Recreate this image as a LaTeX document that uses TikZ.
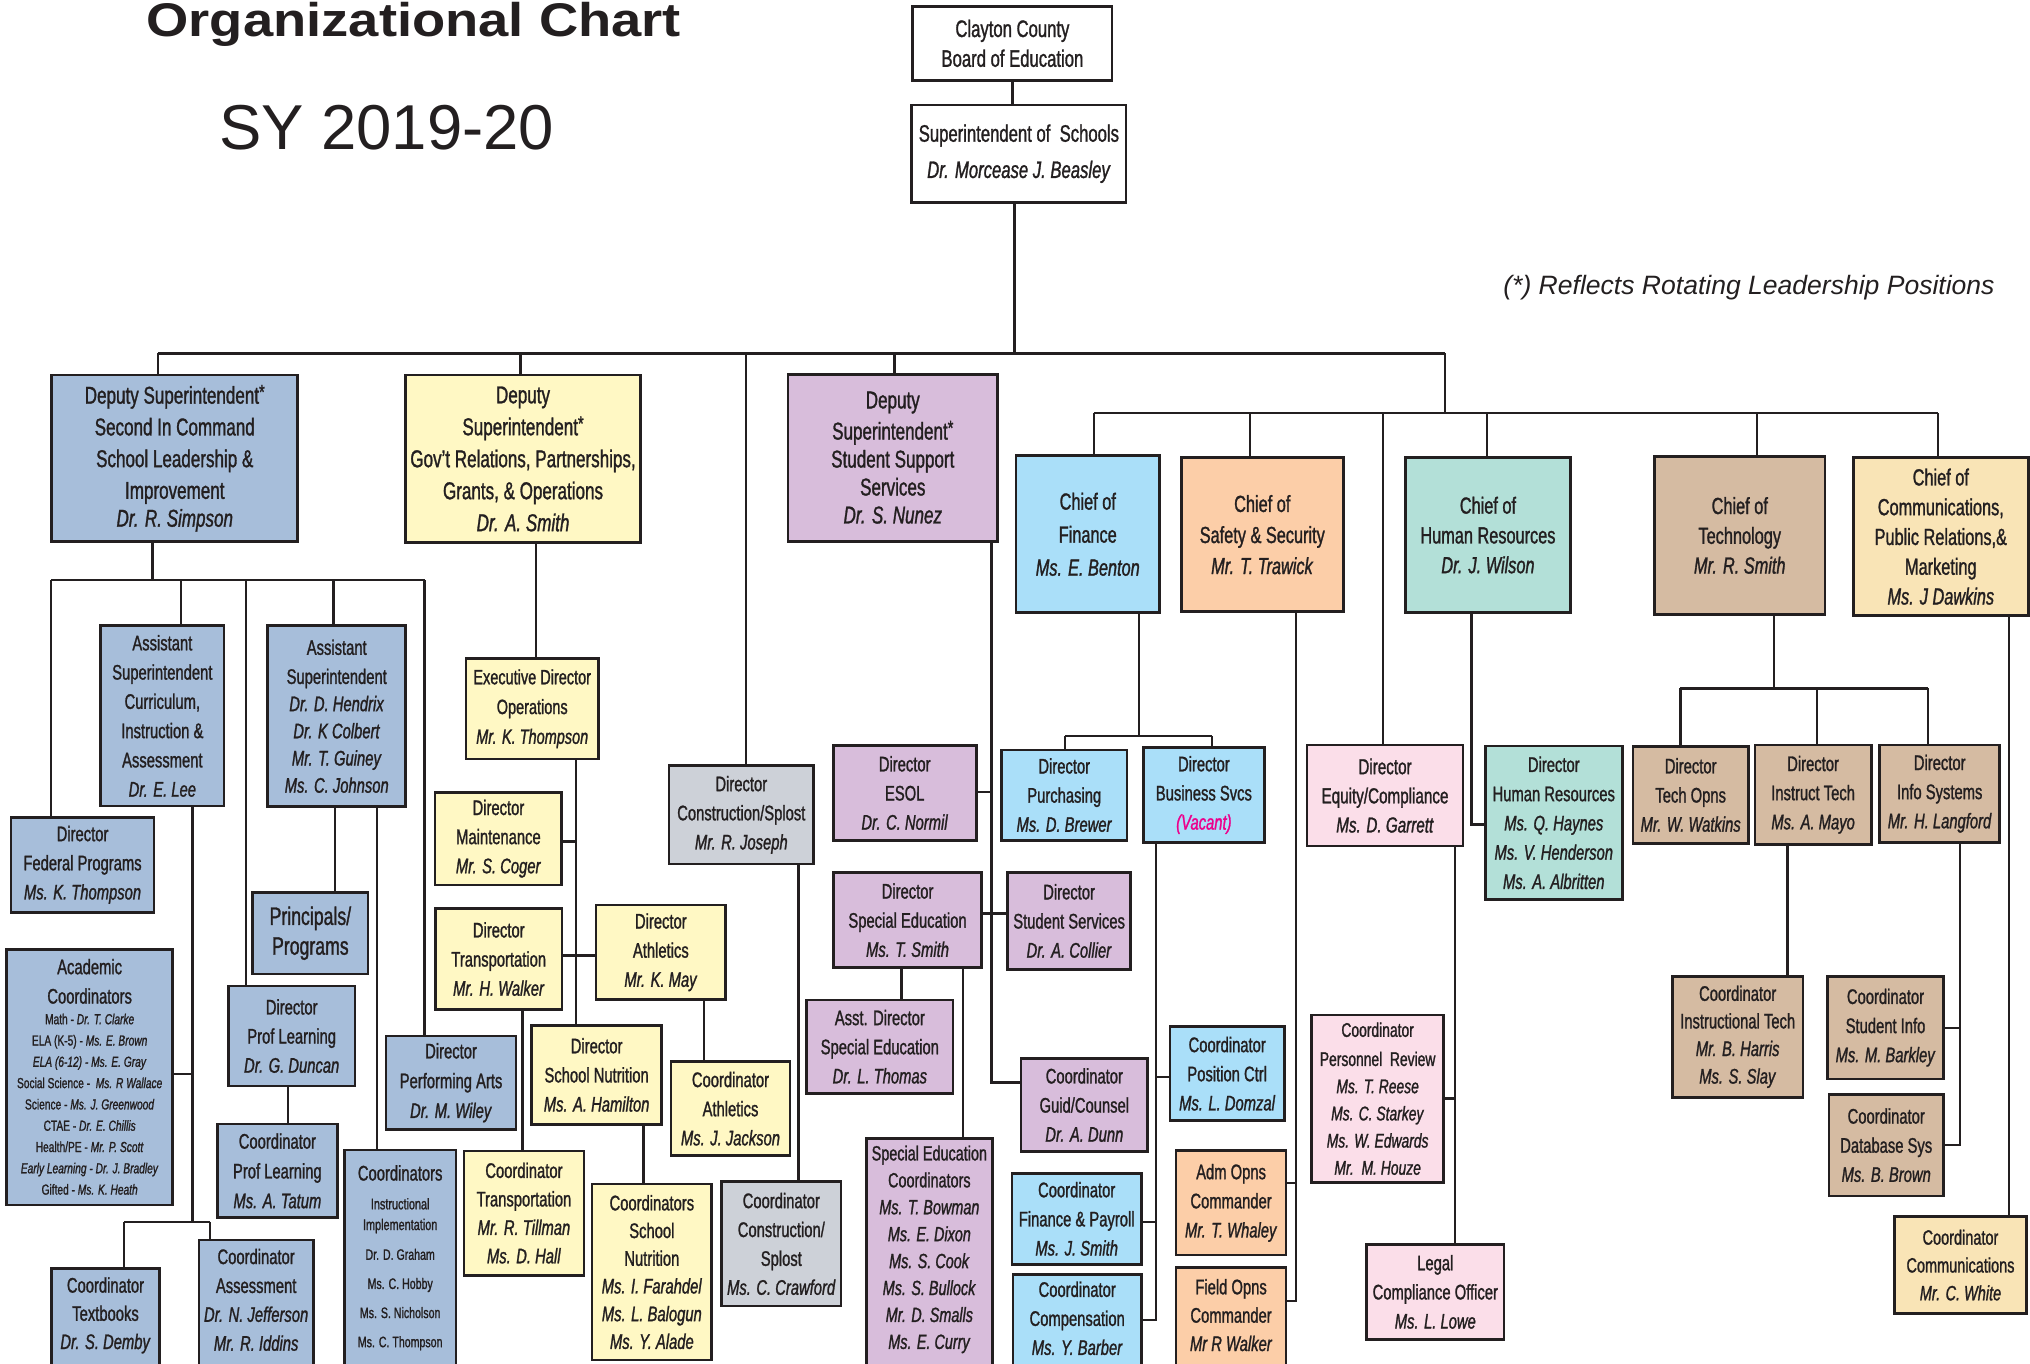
\documentclass[tikz,border=0pt]{standalone}
\usepackage{fontspec}
\setmainfont{Liberation Sans}[FakeStretch=0.7,FakeBold=1.2]
\newfontfamily\titlefont{Liberation Sans}[FakeStretch=1.15]
\newfontfamily\plainfont{Liberation Sans}
\definecolor{ink}{HTML}{231F20}
\definecolor{cBlu}{HTML}{A7BEDA}
\definecolor{cYel}{HTML}{FFF8C4}
\definecolor{cPur}{HTML}{D8BDDB}
\definecolor{cGry}{HTML}{CDD1D8}
\definecolor{cLbl}{HTML}{AADFF9}
\definecolor{cPch}{HTML}{FCCEA8}
\definecolor{cTea}{HTML}{B3E0D8}
\definecolor{cPnk}{HTML}{FBDEE9}
\definecolor{cTan}{HTML}{D5BBA2}
\definecolor{cWht}{HTML}{F9E4B6}
\definecolor{cVac}{HTML}{EC008C}
\newcommand\setfs[2]{\fontsize{#1}{#2}\selectfont}
\newcommand\who[1]{\textit{#1}}
\newcommand\rotmark{\raisebox{3.5pt}{\fontsize{16}{16}\selectfont *}}
\pgfdeclarelayer{bg}
\pgfsetlayers{bg,main}
\tikzset{
  box/.style={draw=ink, line width=2.1pt, align=center, inner sep=0pt, text=ink, font=\setfs{16.3}{22.5}},
  txt/.style={align=center, inner sep=0pt, text=ink},
  wire/.style={draw=ink, line width=1.8pt},
  wh/.style 2 args={minimum width=#1, minimum height=#2},
}
\begin{document}
\begin{tikzpicture}[x=1pt,y=-1pt]
\useasboundingbox (0,0) rectangle (1568,1053);
\begin{pgfonlayer}{bg}
\fill[white] (0,0) rectangle (1568,1053);
\end{pgfonlayer}

% titles
\node[txt, anchor=base west, font=\titlefont\bfseries\setfs{36.5}{40}] (title) at (113,28.3) {Organizational Chart};
\node[txt, anchor=base west, font=\plainfont\setfs{49}{55}] (sy) at (169,115.5) {SY 2019-20};
\node[txt, anchor=base west, font=\plainfont\itshape\setfs{20.5}{24}] (note) at (1161,227.4) {(*) Reflects Rotating Leadership Positions};

% top
\node[box, fill=white, wh={154}{57}, font=\setfs{18.4}{23}] (board) at (782,33.5) {Clayton County\\Board of Education};
\node[box, fill=white, wh={165.5}{75}, font=\setfs{18.4}{28}] (supt) at (787,118.7) {Superintendent of\ \ Schools\\\who{Dr. Morcease J. Beasley}};

% deputies
\node[box, fill=cBlu, wh={190}{128.5}, font=\setfs{18.8}{24.5}] (d1) at (135,354) {Deputy Superintendent\rotmark\\Second In Command\\School Leadership \&\\Improvement\\[-3pt]\who{Dr. R. Simpson}};
\node[box, fill=cYel, wh={182}{129.5}, font=\setfs{18.8}{24.7}] (d2) at (404,354.5) {Deputy\\Superintendent\rotmark\\Gov’t Relations, Partnerships,\\Grants, \& Operations\\\who{Dr. A. Smith}};
\node[box, fill=cPur, wh={162}{129}, font=\setfs{18.8}{21.6}] (d3) at (689.6,353.5) {Deputy\\[2.5pt]Superintendent\rotmark\\Student Support\\Services\\\who{Dr. S. Nunez}};

% chiefs
\node[box, fill=cLbl, wh={111}{121.3}, font=\setfs{18}{25.5}] (cfin) at (840.2,412.7) {Chief of\\Finance\\\who{Ms. E. Benton}};
\node[box, fill=cPch, wh={125}{119}, font=\setfs{18}{24}] (csaf) at (975,413) {Chief of\\Safety \& Security\\\who{Mr. T. Trawick}};
\node[box, fill=cTea, wh={127.3}{119.7}, font=\setfs{18}{23}] (chr) at (1149.3,413.3) {Chief of\\Human Resources\\\who{Dr. J. Wilson}};
\node[box, fill=cTan, wh={131.5}{121.7}, font=\setfs{18}{23}] (ctech) at (1343.8,413.6) {Chief of\\Technology\\\who{Mr. R. Smith}};
\node[box, fill=cWht, wh={135}{122}, font=\setfs{18}{23}] (ccom) at (1499.1,414.5) {Chief of\\Communications,\\Public Relations,\&\\Marketing\\\who{Ms. J Dawkins}};

% deputy 1 subtree
\node[box, fill=cBlu, wh={95.2}{139.3}, font=\setfs{16.3}{22.6}] (asc) at (125.4,553) {Assistant\\Superintendent\\Curriculum,\\Instruction \&\\Assessment\\\who{Dr. E. Lee}};
\node[box, fill=cBlu, wh={106.6}{139.8}, font=\setfs{16.3}{21}] (ash) at (260.1,553.2) {Assistant\\[1.5pt]Superintendent\\\who{Dr. D. Hendrix}\\\who{Dr. K Colbert}\\\who{Mr. T. Guiney}\\\who{Ms. C. Johnson}};
\node[box, fill=cBlu, wh={110.5}{73.4}] (dfp) at (63.75,668) {Director\\Federal Programs\\\who{Ms. K. Thompson}};
\node[box, fill=cBlu, wh={89.1}{63.1}, font=\setfs{19.5}{23}] (pp) at (239.75,720.85) {Principals/\\Programs};
\node[box, fill=cBlu, wh={128.3}{197.5}] (acad) at (69.25,832) {};
\node[txt, font=\setfs{16.3}{22.7}] (acadh) at (69.25,758) {Academic\\Coordinators};
\node[txt, font=\setfs{11.25}{16.45}] (acadl) at (69.25,852.9) {Math - \who{Dr. T. Clarke}\\ELA (K-5) - \who{Ms. E. Brown}\\\who{ELA (6-12) - Ms. E. Gray}\\Social Science -\ \ \who{Ms. R Wallace}\\Science - \who{Ms. J. Greenwood}\\CTAE - \who{Dr. E. Chillis}\\Health/PE - \who{Mr. P. Scott}\\\who{Early Learning - Dr. J. Bradley}\\Gifted - \who{Ms. K. Heath}};
\node[box, fill=cBlu, wh={97.8}{77.3}] (dpl) at (225.3,800.25) {Director\\Prof Learning\\\who{Dr. G. Duncan}};
\node[box, fill=cBlu, wh={92.7}{72.4}, font=\setfs{16.3}{23}] (cpl) at (214.25,904.4) {Coordinator\\Prof Learning\\\who{Ms. A. Tatum}};
\node[box, fill=cBlu, wh={100.4}{72}, font=\setfs{16.3}{23}] (dpa) at (348.4,836.3) {Director\\Performing Arts\\\who{Dr. M. Wiley}};
\node[box, fill=cBlu, wh={86.2}{171.7}] (cii) at (309.1,974.15) {};
\node[txt, font=\setfs{16.3}{20}] (ciih) at (309.1,906) {Coordinators};
\node[txt, font=\setfs{12}{16}] (ciis) at (309.1,939) {Instructional\\Implementation};
\node[txt, font=\setfs{11.7}{22.5}] (ciin) at (309.1,1003.8) {Dr. D. Graham\\Ms. C. Hobby\\Ms. S. Nicholson\\Ms. C. Thompson};
\node[box, fill=cBlu, wh={83.2}{80.3}] (ctb) at (81.5,1019.85) {};
\node[txt, font=\setfs{16.3}{21.8}] (ctbt) at (81.5,1016) {Coordinator\\Textbooks\\\who{Dr. S. Demby}};
\node[box, fill=cBlu, wh={88.3}{102.2}] (cas) at (197.85,1008.9) {};
\node[txt, font=\setfs{16.3}{22.3}] (cast) at (197.85,1004) {Coordinator\\Assessment\\\who{Dr. N. Jefferson}\\\who{Mr. R. Iddins}};

% deputy 2 subtree
\node[box, fill=cYel, wh={102.2}{77.8}, font=\setfs{16}{23}] (edo) at (411.1,547.4) {Executive Director\\Operations\\\who{Mr. K. Thompson}};
\node[box, fill=cYel, wh={97.9}{71.6}] (dmt) at (385,647.8) {Director\\Maintenance\\\who{Mr. S. Coger}};
\node[box, fill=cYel, wh={97.5}{77.5}] (dtr) at (385.25,740.75) {Director\\Transportation\\\who{Mr. H. Walker}};
\node[box, fill=cYel, wh={100.1}{73}] (dath) at (510.45,735.5) {Director\\Athletics\\\who{Mr. K. May}};
\node[box, fill=cYel, wh={100.3}{76.5}] (dsn) at (460.85,830.25) {Director\\School Nutrition\\\who{Ms. A. Hamilton}};
\node[box, fill=cYel, wh={91.9}{72.7}] (cath) at (564.25,856.35) {Coordinator\\Athletics\\\who{Ms. J. Jackson}};
\node[box, fill=cYel, wh={92.6}{96}, font=\setfs{16.3}{22}] (ctr) at (404.7,937) {Coordinator\\Transportation\\\who{Mr. R. Tillman}\\\who{Ms. D. Hall}};
\node[box, fill=cYel, wh={92.4}{135.9}, font=\setfs{16.3}{21.4}] (csn) at (503.5,982.55) {Coordinators\\School\\Nutrition\\\who{Ms. I. Farahdel}\\\who{Ms. L. Balogun}\\\who{Ms. Y. Alade}};

% construction
\node[box, fill=cGry, wh={111.6}{76}] (dcs) at (572.6,629.4) {Director\\Construction/Splost\\\who{Mr. R. Joseph}};
\node[box, fill=cGry, wh={92.2}{96}, font=\setfs{16.3}{22.3}] (ccs) at (603.5,960.8) {Coordinator\\Construction/\\Splost\\\who{Ms. C. Crawford}};

% deputy 3 subtree
\node[box, fill=cPur, wh={110.4}{73}] (desol) at (698.8,612.5) {Director\\ESOL\\\who{Dr. C. Normil}};
\node[box, fill=cPur, wh={114}{73.5}] (dsped) at (701,710.75) {Director\\Special Education\\\who{Ms. T. Smith}};
\node[box, fill=cPur, wh={95.2}{74.7}] (dss) at (825.8,711.35) {Director\\Student Services\\\who{Dr. A. Collier}};
\node[box, fill=cPur, wh={112.8}{72}] (asped) at (679.6,808.5) {Asst. Director\\Special Education\\\who{Dr. L. Thomas}};
\node[box, fill=cPur, wh={97.1}{180.7}] (spco) at (717.85,969.65) {};
\node[txt, font=\setfs{15.9}{20.8}] (spcot) at (717.85,965) {Special Education\\Coordinators\\\who{Ms. T. Bowman}\\\who{Ms. E. Dixon}\\\who{Ms. S. Cook}\\\who{Ms. S. Bullock}\\\who{Mr. D. Smalls}\\\who{Ms. E. Curry}};
\node[box, fill=cPur, wh={97.7}{72.1}] (cgc) at (837.55,853.55) {Coordinator\\Guid/Counsel\\\who{Dr. A. Dunn}};

% finance subtree
\node[box, fill=cLbl, wh={97.1}{69.7}] (dpur) at (822.05,614.15) {Director\\Purchasing\\\who{Ms. D. Brewer}};
\node[box, fill=cLbl, wh={93.8}{73.1}] (dbs) at (929.9,614.05) {Director\\Business Svcs\\\textcolor{cVac}{\who{(Vacant)}}};
\node[box, fill=cLbl, wh={88.2}{72.7}] (cpc) at (947.9,829.35) {Coordinator\\Position Ctrl\\\who{Ms. L. Domzal}};
\node[box, fill=cLbl, wh={100.1}{70.3}] (cfp) at (831.65,941.45) {Coordinator\\Finance \& Payroll\\\who{Ms. J. Smith}};
\node[box, fill=cLbl, wh={99.3}{75.6}] (ccomp) at (832.05,1022.2) {};
\node[txt, font=\setfs{16.3}{22.4}] (ccompt) at (832.05,1018.3) {Coordinator\\Compensation\\\who{Ms. Y. Barber}};

% safety subtree
\node[box, fill=cPch, wh={85}{80.6}] (adm) at (950.9,929.1) {Adm Opns\\Commander\\\who{Mr. T. Whaley}};
\node[box, fill=cPch, wh={85}{80.8}] (field) at (950.9,1019.6) {};
\node[txt, font=\setfs{16.3}{21.9}] (fieldt) at (950.9,1015.8) {Field Opns\\Commander\\\who{Mr R Walker}};

% equity subtree
\node[box, fill=cPnk, wh={120.4}{78}, font=\setfs{16.8}{22.5}] (deq) at (1069.8,614.5) {Director\\Equity/Compliance\\\who{Ms. D. Garrett}};
\node[box, fill=cPnk, wh={101.8}{129.3}, font=\setfs{15.3}{21}] (cpr) at (1064.1,848.65) {Coordinator\\[1.5pt]Personnel\ \ Review\\\who{Ms. T. Reese}\\\who{Ms. C. Starkey}\\\who{Ms. W. Edwards}\\\who{Mr.\ \ M. Houze}};
\node[box, fill=cPnk, wh={106.1}{73.3}] (legal) at (1108.65,997.85) {Legal\\Compliance Officer\\\who{Ms. L. Lowe}};

% HR
\node[box, fill=cTea, wh={105.7}{118.8}, font=\setfs{16.3}{22.6}] (dhr) at (1200.15,635.6) {Director\\Human Resources\\\who{Ms. Q. Haynes}\\\who{Ms. V. Henderson}\\\who{Ms. A. Albritten}};

% technology
\node[box, fill=cTan, wh={89.2}{74.7}] (dto) at (1305.9,614.05) {Director\\Tech Opns\\\who{Mr. W. Watkins}};
\node[box, fill=cTan, wh={89.9}{76.7}] (dit) at (1400.45,613.85) {Director\\Instruct Tech\\\who{Ms. A. Mayo}};
\node[box, fill=cTan, wh={92.7}{75.1}] (dis) at (1498.25,613.05) {Director\\Info Systems\\\who{Mr. H. Langford}};
\node[box, fill=cTan, wh={100.8}{93.6}, font=\setfs{16.3}{21.3}] (cit) at (1342.2,800.8) {Coordinator\\Instructional Tech\\\who{Mr. B. Harris}\\\who{Ms. S. Slay}};
\node[box, fill=cTan, wh={89.6}{79.5}] (csi) at (1456.4,793.75) {Coordinator\\Student Info\\\who{Ms. M. Barkley}};
\node[box, fill=cTan, wh={88.5}{78.5}] (cds) at (1456.95,884.55) {Coordinator\\Database Sys\\\who{Ms. B. Brown}};

% communications
\node[box, fill=cWht, wh={101.8}{74.7}, font=\setfs{16}{21.5}] (ccm) at (1514.3,977.15) {Coordinator\\Communications\\\who{Mr. C. White}};

% ---------- connectors ----------
\begin{pgfonlayer}{bg}
\draw[wire] (board.south) -- (board.south |- supt.north);
\coordinate (jS) at (783.5,273);
\draw[wire] (supt.south -| jS) -- (jS);
\coordinate (mL) at (122,273);
\coordinate (mR) at (1116,273);
\draw[wire] (mL) -- (mR);
\draw[wire] (mL) -- (mL |- d1.north);
\coordinate (m2) at (402,273);
\draw[wire] (m2) -- (m2 |- d2.north);
\coordinate (m3) at (576,273);
\draw[wire] (m3) -- (m3 |- dcs.north);
\coordinate (m4) at (691,273);
\draw[wire] (m4) -- (m4 |- d3.north);
\coordinate (sJ) at (1116,319);
\draw[wire] (mR) -- (sJ);
\coordinate (sL) at (845,319);
\coordinate (sR) at (1497,319);
\draw[wire] (sL) -- (sR);
\draw[wire] (sL) -- (sL |- cfin.north);
\coordinate (s2) at (965.5,319);
\draw[wire] (s2) -- (s2 |- csaf.north);
\coordinate (s3) at (1068,319);
\draw[wire] (s3) -- (s3 |- deq.north);
\coordinate (s4) at (1148.5,319);
\draw[wire] (s4) -- (s4 |- chr.north);
\coordinate (s5) at (1357,319);
\draw[wire] (s5) -- (s5 |- ctech.north);
\draw[wire] (sR) -- (sR |- ccom.north);

% deputy 1
\coordinate (a1) at (117.7,448);
\draw[wire] (d1.south -| a1) -- (a1);
\coordinate (aL) at (39.5,448);
\coordinate (aR) at (328,448);
\draw[wire] (aL) -- (aR);
\draw[wire] (aL) -- (aL |- dfp.north);
\coordinate (a2) at (140,448);
\draw[wire] (a2) -- (a2 |- asc.north);
\coordinate (a3) at (190,448);
\draw[wire] (a3) -- (a3 |- dpl.north);
\coordinate (a4) at (257.5,448);
\draw[wire] (a4) -- (a4 |- ash.north);
\draw[wire] (aR) -- (aR |- dpa.north);
\coordinate (b1) at (148.6,943.7);
\draw[wire] (asc.south -| b1) -- (b1);
\coordinate (b2) at (148.6,829.6);
\draw[wire] (b2) -- (b2 -| acad.east);
\coordinate (bL) at (96,943.7);
\coordinate (bR) at (162,943.7);
\draw[wire] (bL) -- (bR);
\draw[wire] (bL) -- (bL |- ctb.north);
\draw[wire] (bR) -- (bR |- cas.north);
\coordinate (c1) at (258.8,650);
\draw[wire] (ash.south -| c1) -- (c1 |- pp.north);
\coordinate (c2) at (291,650);
\draw[wire] (ash.south -| c2) -- (c2 |- cii.north);
\coordinate (c3) at (222.7,850);
\draw[wire] (dpl.south -| c3) -- (c3 |- cpl.north);

% deputy 2
\coordinate (e1) at (414,450);
\draw[wire] (d2.south -| e1) -- (e1 |- edo.north);
\coordinate (e2) at (445,700);
\draw[wire] (edo.south -| e2) -- (e2 |- dsn.north);
\coordinate (e3) at (445,650);
\draw[wire] (dmt.east |- e3) -- (e3);
\coordinate (e4) at (445,738);
\draw[wire] (dtr.east |- e4) -- (dath.west |- e4);
\coordinate (e5) at (544,800);
\draw[wire] (dath.south -| e5) -- (e5 |- cath.north);
\coordinate (e6) at (403.7,850);
\draw[wire] (dtr.south -| e6) -- (e6 |- ctr.north);
\coordinate (e7) at (497,900);
\draw[wire] (dsn.south -| e7) -- (e7 |- csn.north);
\coordinate (e8) at (616.7,800);
\draw[wire] (dcs.south -| e8) -- (e8 |- ccs.north);

% deputy 3
\coordinate (f1) at (765.8,836);
\draw[wire] (d3.south -| f1) -- (f1) -- (f1 -| cgc.west);
\coordinate (f2) at (765.8,611.5);
\draw[wire] (desol.east |- f2) -- (f2);
\coordinate (f3) at (765.8,705.5);
\draw[wire] (dsped.east |- f3) -- (dss.west |- f3);
\coordinate (f4) at (696.3,760);
\draw[wire] (dsped.south -| f4) -- (f4 |- asped.north);
\coordinate (f5) at (744,800);
\draw[wire] (dsped.south -| f5) -- (f5 |- spco.north);

% finance
\coordinate (g1) at (879.8,568.3);
\draw[wire] (cfin.south -| g1) -- (g1);
\coordinate (gL) at (822.7,568.3);
\coordinate (gR) at (936.2,568.3);
\draw[wire] (gL) -- (gR);
\draw[wire] (gL) -- (gL |- dpur.north);
\draw[wire] (gR) -- (gR |- dbs.north);
\coordinate (h1) at (892.7,1019.6);
\draw[wire] (dbs.south -| h1) -- (h1) -- (h1 -| ccomp.east);
\coordinate (h2) at (892.7,831.7);
\draw[wire] (h2) -- (h2 -| cpc.west);
\coordinate (h3) at (892.7,943.7);
\draw[wire] (h3) -- (h3 -| cfp.east);

% safety
\coordinate (k1) at (1001,1005);
\draw[wire] (csaf.south -| k1) -- (k1) -- (k1 -| field.east);
\coordinate (k2) at (1001,913.5);
\draw[wire] (k2) -- (k2 -| adm.east);

% equity
\coordinate (l1) at (1124,900);
\draw[wire] (deq.south -| l1) -- (l1 |- legal.north);
\coordinate (l2) at (1124,848.4);
\draw[wire] (l2) -- (l2 -| cpr.east);

% HR
\coordinate (n1) at (1136.5,636.8);
\draw[wire] (chr.south -| n1) -- (n1) -- (n1 -| dhr.west);

% technology
\coordinate (p1) at (1370,531.7);
\draw[wire] (ctech.south -| p1) -- (p1);
\coordinate (pL) at (1298,531.7);
\coordinate (pR) at (1489.3,531.7);
\draw[wire] (pL) -- (pR);
\draw[wire] (pL) -- (pL |- dto.north);
\coordinate (p2) at (1403.4,531.7);
\draw[wire] (p2) -- (p2 |- dit.north);
\draw[wire] (pR) -- (pR |- dis.north);
\coordinate (q1) at (1380.7,700);
\draw[wire] (dit.south -| q1) -- (q1 |- cit.north);
\coordinate (r1) at (1513.8,884.5);
\draw[wire] (dis.south -| r1) -- (r1) -- (r1 -| cds.east);
\coordinate (r2) at (1513.8,793.8);
\draw[wire] (r2) -- (r2 -| csi.east);

% communications
\coordinate (t1) at (1551.8,700);
\draw[wire] (ccom.south -| t1) -- (t1 |- ccm.north);
\end{pgfonlayer}
\end{tikzpicture}
\end{document}
